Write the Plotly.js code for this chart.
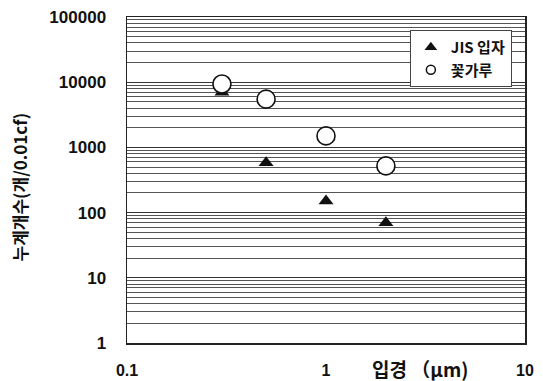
<!DOCTYPE html>
<html>
<head>
<meta charset="utf-8">
<script src="https://cdn.plot.ly/plotly-3.0.1.min.js"></script>
<style>html,body{margin:0;padding:0;background:#fff;}#chart{width:543px;height:381px;}</style>
</head>
<body>
<div id="chart"></div>
<script>
// Data
const particleSize = [0.3, 0.5, 1, 2];
const jisCounts = [7000, 580, 150, 70];
const pollenCounts = [9400, 5500, 1500, 520];
const seriesNames = ["JIS 입자", "꽃가루"];
const yTickVals = [1, 10, 100, 1000, 10000, 100000];
const yTickText = ["1", "10", "100", "1000", "10000", "100000"];
const xTickVals = [0.1, 1, 10];
const xTickText = ["0.1", "1", "10"];
const yTitle = "누계개수(개/0.01cf)";
const xTitle = "입경 （μm)";

const FONT = "Liberation Sans, Arial, 'Noto Sans CJK KR', sans-serif";
const KFONT = "'Noto Sans CJK KR', 'Liberation Sans', sans-serif";

const triMarker = {symbol: "triangle-up", color: "#111", line: {width: 0}};
const circMarker = {symbol: "circle", color: "#fff", line: {width: 1.6, color: "#111"}};

const traces = [
  {
    x: particleSize, y: jisCounts, name: seriesNames[0], showlegend: false,
    type: "scatter", mode: "markers",
    marker: Object.assign({size: 13}, triMarker)
  },
  {
    x: particleSize, y: pollenCounts, name: seriesNames[1], showlegend: false,
    type: "scatter", mode: "markers",
    marker: Object.assign({size: 18}, circMarker)
  },
  // legend-only entries (smaller symbols, as in the reference legend)
  {
    x: [null], y: [null], name: seriesNames[0], showlegend: true,
    type: "scatter", mode: "markers",
    marker: Object.assign({size: 11}, triMarker)
  },
  {
    x: [null], y: [null], name: seriesNames[1], showlegend: true,
    type: "scatter", mode: "markers",
    marker: Object.assign({size: 9, line: {width: 1.5, color: "#111"}}, {symbol: "circle", color: "#fff"})
  }
];

const layout = {
  width: 543, height: 381,
  margin: {l: 127, r: 18, t: 17, b: 38},
  paper_bgcolor: "#fff", plot_bgcolor: "#fff",
  showlegend: true,
  legend: {
    x: 0.967, y: 0.96, xanchor: "right", yanchor: "top",
    bgcolor: "#fff", bordercolor: "#444", borderwidth: 1,
    font: {family: KFONT, size: 15, color: "#111", weight: "bold"},
    itemsizing: "trace", tracegroupgap: 4, itemwidth: 30
  },
  xaxis: {
    type: "log", range: [-1, 1],
    tickmode: "array", tickvals: xTickVals, ticktext: xTickText,
    showgrid: false, zeroline: false,
    showline: true, linecolor: "#222", linewidth: 1.5, mirror: true,
    ticks: "", ticklabelstandoff: 12,
    tickfont: {family: FONT, size: 16, color: "#111", weight: "bold"}
  },
  yaxis: {
    type: "log", range: [0, 5],
    tickmode: "array", tickvals: yTickVals, ticktext: yTickText,
    showgrid: true, gridcolor: "#333", gridwidth: 1.3, zeroline: false,
    showline: true, linecolor: "#222", linewidth: 1.5, mirror: true,
    ticks: "", ticklabelstandoff: 16,
    tickfont: {family: FONT, size: 17, color: "#111", weight: "bold"},
    minor: {dtick: "D1", showgrid: true, gridcolor: "#555", gridwidth: 1, ticks: ""}
  },
  annotations: [
    {
      text: yTitle, xref: "paper", yref: "paper",
      x: -0.269, y: 0.48, xanchor: "center", yanchor: "middle",
      textangle: -90, showarrow: false,
      font: {family: KFONT, size: 17, color: "#111", weight: "bold"}
    },
    {
      text: xTitle, xref: "paper", yref: "paper",
      x: 0.737, y: -0.077, xanchor: "center", yanchor: "middle",
      showarrow: false,
      font: {family: KFONT, size: 19, color: "#111", weight: "bold"}
    }
  ]
};

Plotly.newPlot("chart", traces, layout, {displayModeBar: false, staticPlot: true});
</script>
</body>
</html>
